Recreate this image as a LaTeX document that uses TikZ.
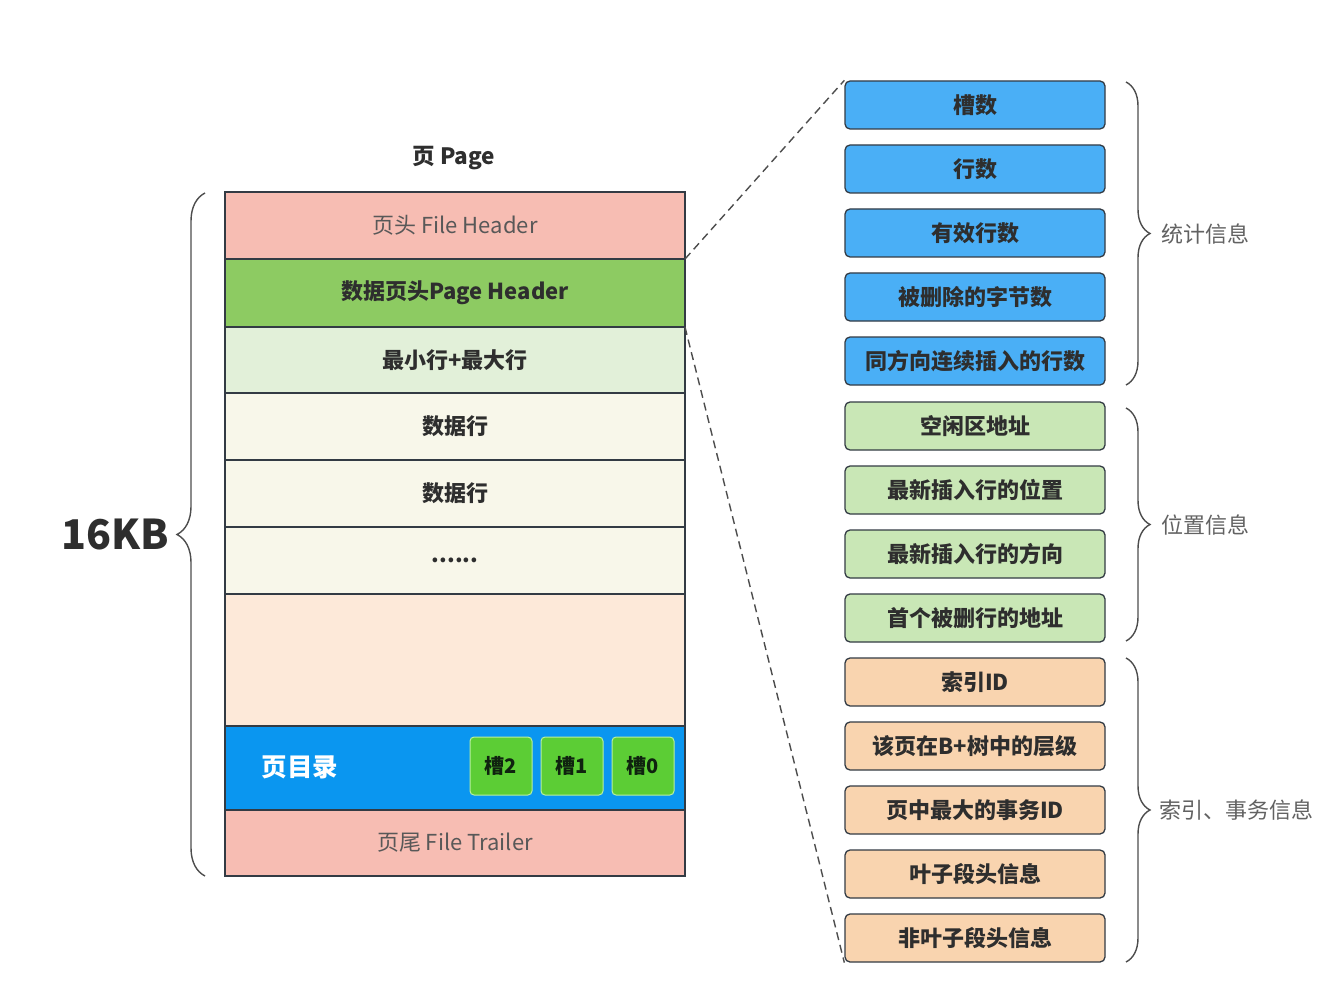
\documentclass[tikz,border=0pt]{standalone}
\usepackage{fontspec}
\setmainfont{Noto Sans CJK SC}
\usetikzlibrary{decorations.pathreplacing}
\definecolor{fhc}{HTML}{F7BDB3}
\definecolor{phc}{HTML}{8DCB62}
\definecolor{minc}{HTML}{E2F0D9}
\definecolor{rowc}{HTML}{F8F7EA}
\definecolor{freec}{HTML}{FDE9D9}
\definecolor{dirc}{HTML}{0A96F0}
\definecolor{slotc}{HTML}{5CCD35}
\definecolor{slotb}{HTML}{B8F0A0}
\definecolor{bluec}{HTML}{4AAFF6}
\definecolor{greenc}{HTML}{C9E7B6}
\definecolor{orangec}{HTML}{F9D4AF}
\definecolor{edge}{HTML}{333B44}
\definecolor{txt}{HTML}{2E2E2E}
\tikzset{
  row/.style={draw=edge, line width=1.3pt, minimum width=460pt, inner sep=0pt, outer sep=0pt, text=txt, font=\fontsize{22}{25}\selectfont\bfseries},
  infobox/.style={draw=edge, line width=1.3pt, rounded corners=5pt, minimum width=260pt, minimum height=48pt, inner sep=0pt, text=txt, font=\fontsize{22}{25}\selectfont\bfseries},
  slotbox/.style={draw=slotb, line width=1pt, fill=slotc, rounded corners=4pt, minimum width=62pt, minimum height=58pt, inner sep=0pt, text=txt!80!green!40!black, font=\fontsize{20}{22}\selectfont\bfseries},
  bracel/.style={draw=txt!85, line width=1.4pt, decorate},
  sidelabel/.style={text=txt!75, font=\fontsize{22}{25}\selectfont, anchor=west, inner sep=0pt},
  dashline/.style={draw=txt!85, line width=1.4pt, dash pattern=on 8pt off 5pt}
}
\begin{document}
\begin{tikzpicture}[x=1pt,y=-1pt]
\useasboundingbox[fill=white] (0,0) rectangle (1323,987);
% title
\node[text=txt, font=\fontsize{22.5}{26}\selectfont\bfseries] (title) at (454,158) {页 Page};
% page rows
\node[row, fill=fhc, minimum height=67pt, font=\fontsize{22}{25}\selectfont, text=txt!80] (fh) at (455,225.5) {页头 File Header};
\node[row, fill=phc, minimum height=68pt] (ph) at (455,293) {数据页头Page Header};
\node[row, fill=minc, minimum height=66pt] (mm) at (455,360) {最小行+最大行};
\node[row, fill=rowc, minimum height=67pt] (r1) at (455,426.5) {数据行};
\node[row, fill=rowc, minimum height=67pt] (r2) at (455,493.5) {数据行};
\node[row, fill=rowc, minimum height=67pt] (r3) at (455,560.5) {......};
\node[row, fill=freec, minimum height=132pt] (free) at (455,660) {};
\node[row, fill=dirc, minimum height=84pt] (dir) at (455,768) {};
\node[row, fill=fhc, minimum height=66pt, font=\fontsize{22}{25}\selectfont, text=txt!80] (ft) at (455,843) {页尾 File Trailer};
\node[text=white, font=\fontsize{25.5}{28}\selectfont\bfseries] (dirlabel) at (300,767) {页目录};
\node[slotbox] (s2) at (501,766) {槽2};
\node[slotbox] (s1) at (572,766) {槽1};
\node[slotbox] (s0) at (643,766) {槽0};
% left brace
\coordinate (lb1) at (205,876);
\coordinate (lb2) at (205,193);
\draw[bracel, decoration={brace, amplitude=28pt}] (lb1) -- (lb2);
\node[text=txt, font=\fontsize{41}{45}\selectfont\bfseries, anchor=east, inner sep=0pt] (kb) at (169,535) {16KB};
% right boxes
\node[infobox, fill=bluec] (b1) at (975,105) {槽数};
\node[infobox, fill=bluec] (b2) at (975,169) {行数};
\node[infobox, fill=bluec] (b3) at (975,233) {有效行数};
\node[infobox, fill=bluec] (b4) at (975,297) {被删除的字节数};
\node[infobox, fill=bluec] (b5) at (975,361) {同方向连续插入的行数};
\node[infobox, fill=greenc] (b6) at (975,426) {空闲区地址};
\node[infobox, fill=greenc] (b7) at (975,490) {最新插入行的位置};
\node[infobox, fill=greenc] (b8) at (975,554) {最新插入行的方向};
\node[infobox, fill=greenc] (b9) at (975,618) {首个被删行的地址};
\node[infobox, fill=orangec] (b10) at (975,682) {索引ID};
\node[infobox, fill=orangec] (b11) at (975,746) {该页在B+树中的层级};
\node[infobox, fill=orangec] (b12) at (975,810) {页中最大的事务ID};
\node[infobox, fill=orangec] (b13) at (975,874) {叶子段头信息};
\node[infobox, fill=orangec] (b14) at (975,938) {非叶子段头信息};
% dashed connectors
\draw[dashline] (ph.north east) -- (b1.north west);
\draw[dashline] (ph.south east) -- (b14.south west);
% right braces
\coordinate (rb1a) at (1126,82);
\coordinate (rb1b) at (1126,385);
\coordinate (rb2a) at (1126,408);
\coordinate (rb2b) at (1126,641);
\coordinate (rb3a) at (1126,658);
\coordinate (rb3b) at (1126,962);
\draw[bracel, decoration={brace, amplitude=24pt}] (rb1a) -- (rb1b);
\draw[bracel, decoration={brace, amplitude=24pt}] (rb2a) -- (rb2b);
\draw[bracel, decoration={brace, amplitude=24pt}] (rb3a) -- (rb3b);
\node[sidelabel] (l1) at (1161,234) {统计信息};
\node[sidelabel] (l2) at (1161,525) {位置信息};
\node[sidelabel] (l3) at (1159,810) {索引、事务信息};
\end{tikzpicture}
\end{document}
